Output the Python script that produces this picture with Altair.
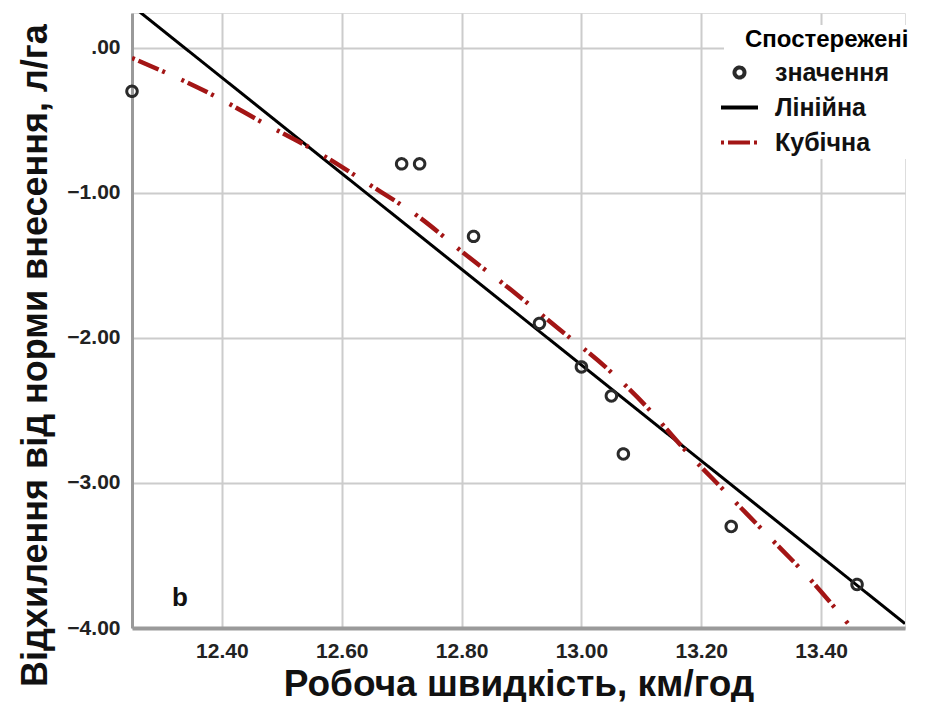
import altair as alt
import pandas as pd

speed = [12.25, 12.70, 12.73, 12.82, 12.93, 13.00, 13.05, 13.07, 13.25, 13.46]
deviation = [-0.3, -0.8, -0.8, -1.3, -1.9, -2.2, -2.4, -2.8, -3.3, -3.7]

# Linear fit line, end points
linear_x = [12.25, 13.54]
linear_y = [0.29, -3.97]

# Cubic fit curve
cubic_x = [12.25, 12.387, 12.47, 12.56, 12.645, 12.73, 12.805, 12.883, 12.96,
           13.04, 13.11, 13.17, 13.24, 13.313, 13.383, 13.447]
cubic_y = [-0.07, -0.33, -0.52, -0.72, -0.94, -1.17, -1.42, -1.67, -1.93,
           -2.20, -2.48, -2.76, -3.06, -3.37, -3.67, -3.98]

series_names = ["Спостережені значення", "Лінійна", "Кубічна"]
x_ticks = [12.40, 12.60, 12.80, 13.00, 13.20, 13.40]
y_ticks = [0, -1, -2, -3, -4]
x_domain = [12.25, 13.54]
y_domain = [-4.0, 0.24]
panel_label = ["b"]
panel_pos_x = [12.33]
panel_pos_y = [-3.79]

obs = pd.DataFrame({"speed": speed, "dev": deviation, "series": series_names[0]})
lin = pd.DataFrame({"speed": linear_x, "dev": linear_y, "series": series_names[1]})
cub = pd.DataFrame({"speed": cubic_x, "dev": cubic_y, "series": series_names[2]})
lab = pd.DataFrame({"speed": panel_pos_x, "dev": panel_pos_y, "t": panel_label})

FONT = "Liberation Sans"

legend = alt.Legend(
    title="\u2800Спостережені",
    orient="none",
    legendX=592,
    legendY=12,
    fillColor="white",
    padding=3,
    titleFont=FONT,
    titleFontSize=24,
    titleFontWeight="bold",
    titleColor="black",
    titlePadding=8,
    titleLimit=400,
    labelFont=FONT,
    labelFontSize=25,
    labelFontWeight="bold",
    labelColor="#111111",
    labelOffset=23,
    labelLimit=400,
    labelExpr="datum.label == 'Спостережені значення' ? 'значення' : datum.label",
    symbolSize=100,
    symbolStrokeWidth=4,
    rowPadding=9,
)

color_scale = alt.Scale(domain=series_names, range=["#2a2a2a", "#000000", "#a31515"])
shape_scale = alt.Scale(domain=series_names, range=["circle", "M-3.7,0L3.7,0", "M-3.7,0L3.7,0"])
dash_scale = alt.Scale(domain=series_names, range=[[1, 0], [1, 0], [3, 4, 22, 4, 3, 18]])

xenc = alt.X(
    "speed:Q",
    scale=alt.Scale(domain=x_domain, nice=False, zero=False),
    axis=alt.Axis(
        values=x_ticks,
        format=".2f",
        title="Робоча швидкість, км/год",
        titleFont=FONT,
        titleFontSize=37,
        titleFontWeight="bold",
        titleColor="#111111",
        titlePadding=5,
        labelFont=FONT,
        labelFontSize=21,
        labelFontWeight="bold",
        labelColor="#222222",
        labelPadding=12,
        ticks=False,
        domainColor="#9a9a9a",
        domainWidth=4,
        gridColor="#cccccc",
        gridWidth=2,
    ),
)
yenc = alt.Y(
    "dev:Q",
    scale=alt.Scale(domain=y_domain, nice=False, zero=False),
    axis=alt.Axis(
        values=y_ticks,
        labelExpr="datum.value == 0 ? '.00' : format(datum.value, '.2f')",
        title="Відхилення від норми внесення, л/га",
        titleFont=FONT,
        titleFontSize=36,
        titleFontWeight="bold",
        titleColor="#111111",
        titlePadding=12,
        titleY=342,
        labelFont=FONT,
        labelFontSize=21,
        labelFontWeight="bold",
        labelColor="#222222",
        labelPadding=12,
        ticks=False,
        domainColor="#9a9a9a",
        domainWidth=3,
        gridColor="#cccccc",
        gridWidth=2,
    ),
)

color_enc = alt.Color("series:N", scale=color_scale, legend=legend)
dash_enc = alt.StrokeDash("series:N", scale=dash_scale, legend=legend)

linear = alt.Chart(lin).mark_line(strokeWidth=3, clip=True).encode(
    x=xenc, y=yenc, color=color_enc, strokeDash=dash_enc
)

cubic = alt.Chart(cub).mark_line(strokeWidth=4.5, clip=True, interpolate="monotone").encode(
    x=xenc, y=yenc, color=color_enc, strokeDash=dash_enc
)

points = alt.Chart(obs).mark_point(filled=False, size=110, strokeWidth=3, opacity=1).encode(
    x=xenc,
    y=yenc,
    color=color_enc,
    shape=alt.Shape("series:N", scale=shape_scale, legend=legend),
    strokeDash=dash_enc,
)

text = alt.Chart(lab).mark_text(
    font=FONT, fontSize=26, fontWeight="bold", color="#111111"
).encode(x=alt.X("speed:Q"), y=alt.Y("dev:Q"), text="t:N")

chart = (
    alt.layer(linear, cubic, points, text)
    .properties(width=773, height=615, padding={"left": 9, "top": 5, "right": 0, "bottom": 0})
    .configure_view(stroke=None)
    .configure(background="white")
)

chart.save("out.html", embed_options={"renderer": "svg", "actions": False})
